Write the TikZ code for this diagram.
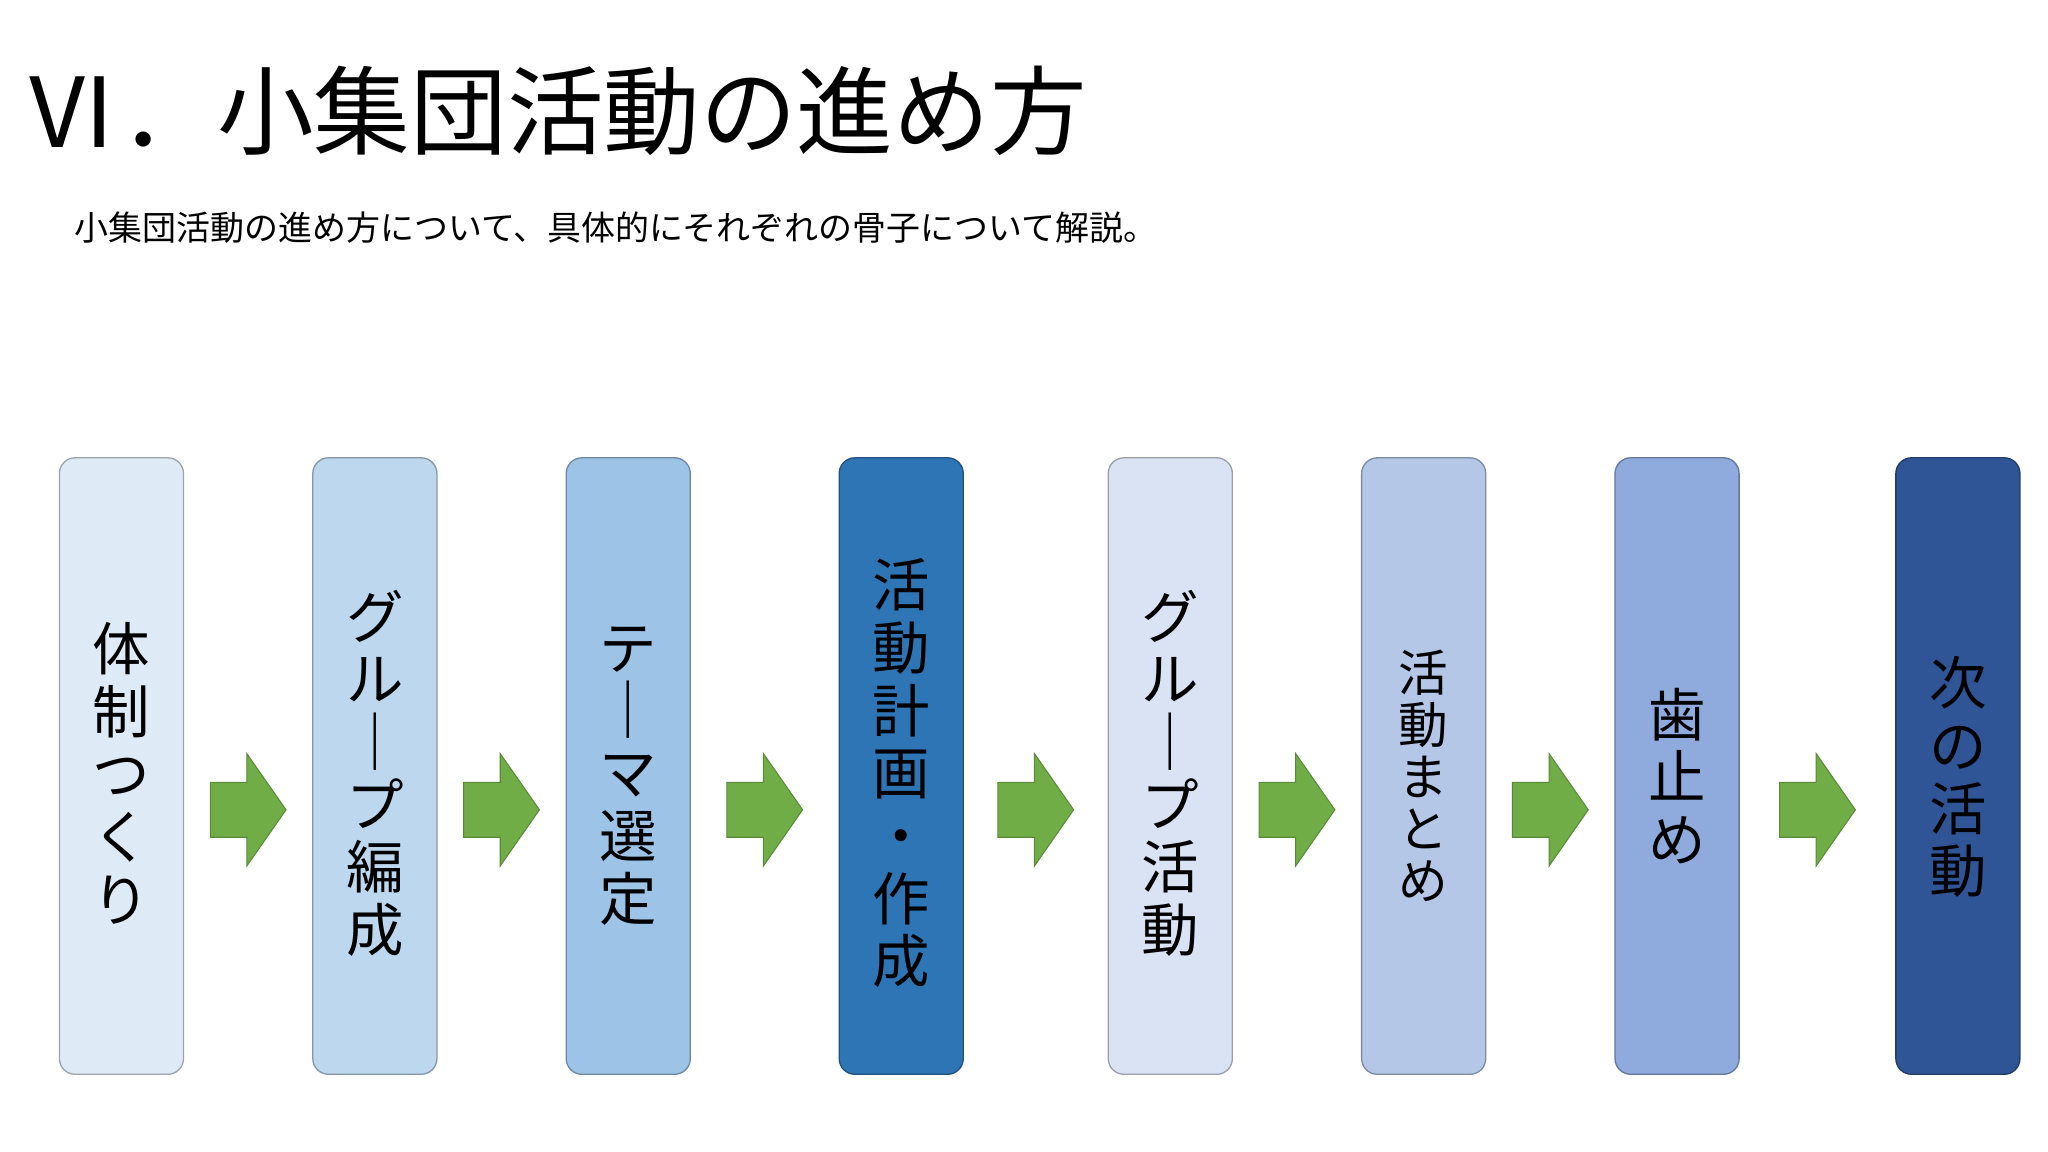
\documentclass[tikz,border=0pt]{standalone}
\usepackage{fontspec}
\setmainfont{Noto Sans CJK JP}
\begin{document}
\begin{tikzpicture}[x=1pt,y=-1pt,
 box/.style={draw=#1!70!black,line width=1pt,rounded corners=12pt,minimum width=95pt,minimum height=472pt,anchor=north west,inner sep=0pt},
 txt/.style={align=center,inner sep=0pt,font=\fontsize{44}{48}\selectfont},
 arr/.style={fill=arrowg,draw=arrowg!80!black,line width=0.8pt}]
\definecolor{arrowg}{HTML}{70AD47}
\definecolor{c1}{HTML}{DEEBF7}\definecolor{c2}{HTML}{BDD7EE}\definecolor{c3}{HTML}{9DC3E6}\definecolor{c4}{HTML}{2E75B6}
\definecolor{c5}{HTML}{DAE3F3}\definecolor{c6}{HTML}{B4C7E7}\definecolor{c7}{HTML}{8FAADC}\definecolor{c8}{HTML}{2F5597}
\useasboundingbox[fill=white] (0,0) rectangle (1568,882);
\node[anchor=base west,font=\fontsize{74}{80}\selectfont,inner sep=0pt] (title) at (18,113) {Ⅵ．小集団活動の進め方};
\node[anchor=west,font=\fontsize{26}{30}\selectfont,inner sep=0pt] (sub) at (57,174) {小集団活動の進め方について、具体的にそれぞれの骨子について解説。};
\foreach \i/\x in {1/45,2/239,3/433,4/642,5/848,6/1042,7/1236,8/1451}{
  \node[box=c\i,fill=c\i] (b\i) at (\x,350) {};
}
\node[txt] (t1) at ([yshift=-242pt]b1.north) {体\\制\\つ\\く\\り};
\node[txt] (t2) at ([yshift=-242pt]b2.north) {グ\\ル\\｜\\プ\\編\\成};
\node[txt] (t3) at ([yshift=-244pt]b3.north) {テ\\｜\\マ\\選\\定};
\node[txt,text=black] (t4) at ([yshift=-242pt]b4.north) {活\\動\\計\\画\\・\\作\\成};
\node[txt] (t5) at ([yshift=-242pt]b5.north) {グ\\ル\\｜\\プ\\活\\動};
\node[txt,font=\fontsize{38}{40}\selectfont] (t6) at ([yshift=-244pt]b6.north) {活\\動\\ま\\と\\め};
\node[txt] (t7) at ([yshift=-244pt]b7.north) {歯\\止\\め};
\node[txt] (t8) at ([yshift=-245pt]b8.north) {次\\の\\活\\動};
\foreach \a/\b in {1/2,2/3,3/4,4/5,5/6,6/7,7/8}{
  \path (b\a.east) -- (b\b.west) coordinate[pos=0.5] (m\a);
  \draw[arr] ([xshift=-29pt,yshift=-21pt]m\a|-0,578) -- ++(28,0) -- ++(0,-22) -- ++(30,43) -- ++(-30,43) -- ++(0,-22) -- ++(-28,0) -- cycle;
}
\end{tikzpicture}
\end{document}
